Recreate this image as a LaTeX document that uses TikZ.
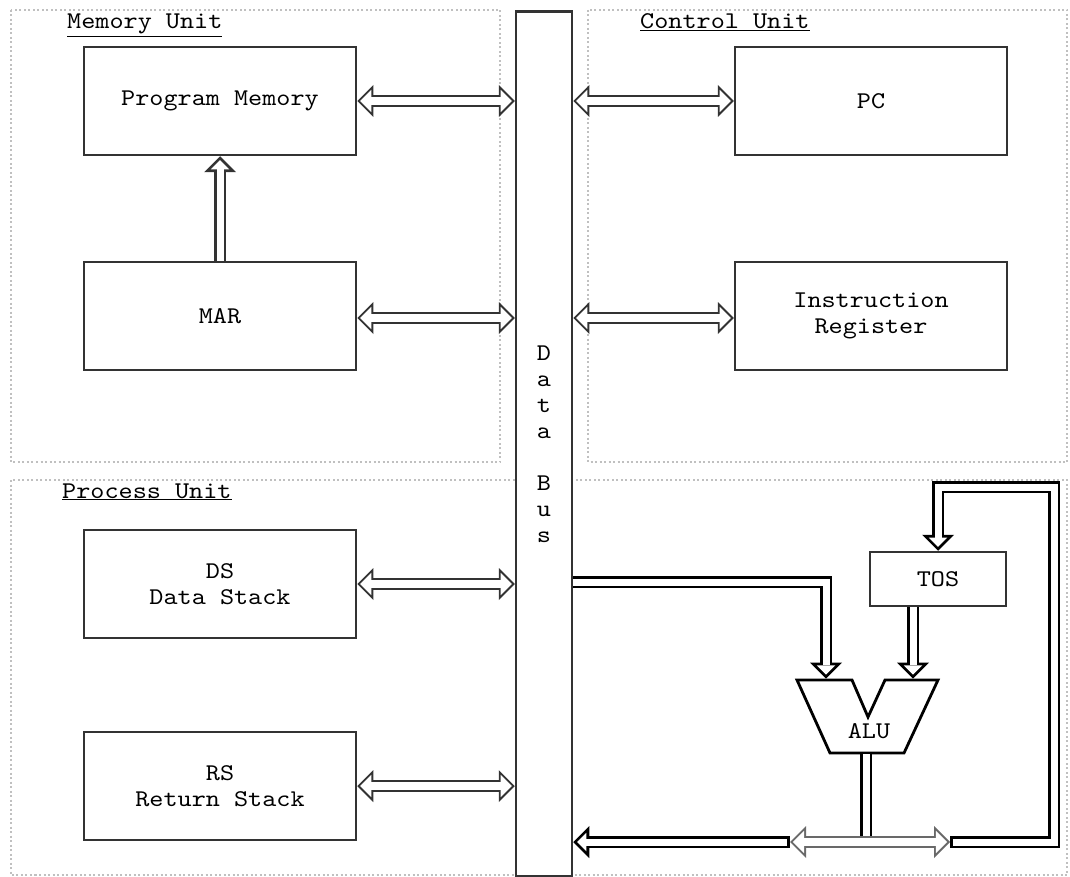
\documentclass[tikz,border=0pt]{standalone}
\usepackage{fontspec}
\newfontfamily\boxfont{lmmono10-regular}[Extension=.otf, FakeStretch=1.12]
\usetikzlibrary{arrows.meta,positioning}
\definecolor{boxgray}{RGB}{51,51,51}
\definecolor{dotgray}{RGB}{192,192,192}
\definecolor{midgray}{RGB}{105,105,105}

\tikzset{
  % hollow arrow heads: outer black head, inner white head
  tipbig/.tip={Triangle[length=16pt, width=32pt, line width=0pt]},
  tipgray/.tip={Triangle[length=11.2pt, width=22.3pt, line width=0pt]},
  tipblack/.tip={Triangle[length=9.2pt, width=18.5pt, line width=0pt]},
  unit/.style={draw=boxgray, line width=2.5pt, fill=white, minimum width=272pt, minimum height=108pt, align=center, font=\boxfont\fontsize{24}{26}\selectfont},
  region/.style={draw=dotgray, line width=2pt, dash pattern=on 2pt off 2.5pt},
  title/.style={anchor=base west, inner sep=0pt, font=\boxfont\fontsize{24}{26}\selectfont},
  busarrow/.style={draw=#1, line width=12pt, {tipbig}-{tipbig},
    postaction={draw=white, line width=8pt, {tipgray}-{tipgray}, shorten <=2.83pt, shorten >=2.83pt}},
  busarrow/.default=boxgray,
  pipe/.style={draw=black, line width=12.6pt, line join=miter,
    postaction={draw=white, line width=7pt}},
  pipeto/.style={draw=black, line width=12.6pt, line join=miter, -{tipbig},
    postaction={draw=white, line width=7pt, -{tipblack}, shorten >=3.96pt}},
  closedto/.style={draw=black, line width=12.6pt, line join=miter, line cap=rect, shorten <=6.3pt, -{tipbig},
    postaction={draw=white, line width=7pt, line cap=butt, -{tipblack}, shorten <=2.8pt, shorten >=3.96pt}},
}

\begin{document}
\begin{tikzpicture}[x=1pt, y=-1pt]
  \useasboundingbox (0,0) rectangle (1070,877);

  % dotted unit frames
  \draw[region] (11,10) rectangle (500,462);
  \draw[region] (588,10) rectangle (1067,462);
  \draw[region] (11,480) rectangle (1067,875);
  \node[title] (memtitle) at (67,29) {\underline{Memory Unit}};
  \node[title] (ctltitle) at (640,29) {\underline{Control Unit}};
  \node[title] (proctitle) at (62,498) {\underline{Process Unit}};

  % data bus
  \node[unit, minimum width=56pt, minimum height=865pt] (bus) at (544,444) {D\\a\\t\\a\\[26pt]B\\u\\s};

  % registers and memories
  \node[unit] (pm) at (220,101) {Program Memory};
  \node[unit] (mar) at (220,316) {MAR};
  \node[unit] (pc) at (871,101) {PC};
  \node[unit] (ir) at (871,316) {Instruction\\Register};
  \node[unit] (ds) at (220,584) {DS\\Data Stack};
  \node[unit] (rs) at (220,786) {RS\\Return Stack};
  \node[unit, minimum width=136pt, minimum height=54pt] (tos) at (938,579) {TOS};

  % ALU
  \draw[line width=2.8pt, line join=miter] (797,680) -- (852,680) -- (868,717) -- (885,680) -- (938,680) -- (904,753) -- (830,753) -- cycle;
  \node[font=\boxfont\fontsize{24}{26}\selectfont] (alu) at (869,731) {ALU};
  \coordinate (aluA) at (826,678.6);
  \coordinate (aluB) at (913,678.6);
  \coordinate (aluO) at (866,754.4);
  \coordinate (feed) at (574,582);
  \coordinate (j1) at (790,842);
  \coordinate (j2) at (950,842);
  \coordinate (loopR) at (1054,842);
  \coordinate (loopT) at (1054,487);

  % bus connections
  \draw[busarrow] (pm) -- (bus.west |- pm);
  \draw[busarrow] (mar.east |- 0,318) -- (bus.west |- 0,318);
  \draw[busarrow] (bus.east |- pc) -- (pc);
  \draw[busarrow] (bus.east |- 0,318) -- (ir.west |- 0,318);
  \draw[busarrow] (ds) -- (bus.west |- ds);
  \draw[busarrow] (rs) -- (bus.west |- rs);
  \draw[pipeto, draw=boxgray] (mar) -- (pm);

  % ALU inputs and result
  \draw[pipeto] (bus.east |- feed) -| (aluA);
  \draw[pipeto] (tos.south -| aluB) -- (aluB);
  \draw[pipe] (aluO) -- (aluO |- j1);
  \draw[busarrow=midgray] (j1) -- (j2);
  \draw[closedto] (j1) -- (bus.east |- j1);
  \draw[closedto] (j2) -- (loopR) -- (loopT) -| (tos.north);
\end{tikzpicture}
\end{document}
